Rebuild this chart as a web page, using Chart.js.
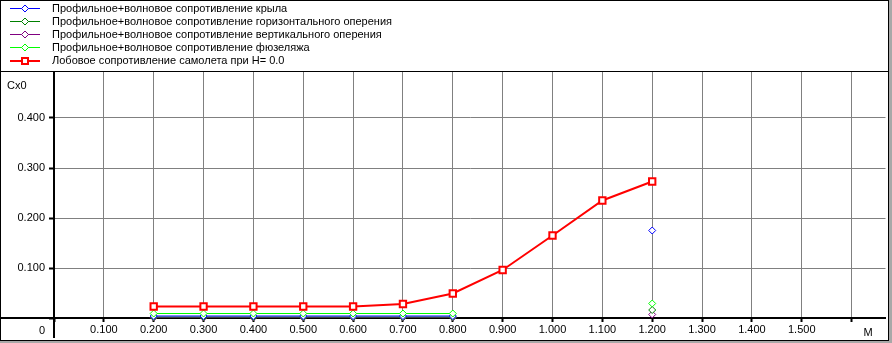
<!DOCTYPE html>
<html>
<head>
<meta charset="utf-8">
<script src="https://cdn.jsdelivr.net/npm/chart.js@4.4.1/dist/chart.umd.min.js"></script>
<style>
  html, body { margin: 0; padding: 0; background: #fff; }
  #wrap { position: relative; width: 892px; height: 343px; overflow: hidden;
          font-family: "Liberation Sans", Arial, sans-serif; font-size: 11px; color: #000; }
  #chart { position: absolute; left: 0; top: 0; }
  #legendBox { position: absolute; left: 0; top: 0; width: 887px; height: 70px; border: 1px solid #000; }
  #plotBox { position: absolute; left: 0; top: 71px; width: 887px; height: 268px; border: 1px solid #000; }
  #shadeR { position: absolute; left: 889px; top: 0; width: 3px; height: 343px; background: #a8a8a8; }
  #shadeB { position: absolute; left: 0; top: 341px; width: 892px; height: 2px; background: #a8a8a8; }
  .row { position: absolute; left: 0; height: 13px; line-height: 13px; white-space: nowrap; }
  .row canvas { position: absolute; left: 8px; top: 0; }
  .row span { position: absolute; left: 52px; top: 0; }
</style>
</head>
<body>
<div id="wrap">
  <canvas id="chart" width="892" height="343"></canvas>
  <div id="legendBox"></div>
  <div id="plotBox"></div>
  <div id="shadeR"></div>
  <div id="shadeB"></div>
</div>
<script>
// Mach numbers
const machValues = [0.2, 0.3, 0.4, 0.5, 0.6, 0.7, 0.8, 0.9, 1.0, 1.1, 1.2];

// Cx0 components (null = not computed)
const wingCx     = [0.004, 0.004, 0.004, 0.004, 0.004, 0.004, 0.004, null, null, null, 0.175];
const hTailCx    = [0.002, 0.002, 0.002, 0.002, 0.002, 0.002, 0.002, null, null, null, 0.016];
const vTailCx    = [0.001, 0.001, 0.001, 0.001, 0.001, 0.001, 0.001, null, null, null, 0.007];
const fuselageCx = [0.009, 0.009, 0.009, 0.009, 0.009, 0.009, 0.009, null, null, null, 0.029];
const totalCx    = [0.023, 0.023, 0.023, 0.023, 0.023, 0.028, 0.049, 0.096, 0.165, 0.235, 0.273];

const seriesNames = [
    'Профильное+волновое сопротивление крыла',
    'Профильное+волновое сопротивление горизонтального оперения',
    'Профильное+волновое сопротивление вертикального оперения',
    'Профильное+волновое сопротивление фюзеляжа',
    'Лобовое сопротивление самолета при H= 0.0'
];
const seriesColors = ['#0000ff', '#008000', '#800080', '#00ff00', '#ff0000'];

const FONT = '"Liberation Sans", Arial, sans-serif';
Chart.defaults.font.family = FONT;
Chart.defaults.font.size = 11;
Chart.defaults.color = '#000';

function toPoints(arr) {
    return machValues.map((m, i) => ({ x: m, y: arr[i] }));
}

function thinSeries(idx, arr, order) {
    return {
        label: seriesNames[idx],
        data: toPoints(arr),
        borderColor: seriesColors[idx],
        backgroundColor: '#fff',
        borderWidth: 1,
        pointStyle: 'rectRot',
        pointRadius: 3.5,
        pointBorderWidth: 1,
        pointBorderColor: seriesColors[idx],
        pointBackgroundColor: '#fff',
        order: order,
        clip: false
    };
}

const datasets = [
    thinSeries(0, wingCx, 2),
    thinSeries(1, hTailCx, 3),
    thinSeries(2, vTailCx, 4),
    thinSeries(3, fuselageCx, 1),
    {
        label: seriesNames[4],
        data: toPoints(totalCx),
        borderColor: seriesColors[4],
        backgroundColor: '#fff',
        borderWidth: 2,
        pointStyle: 'rect',
        pointRadius: 4.5,
        pointBorderWidth: 2,
        pointBorderColor: seriesColors[4],
        pointBackgroundColor: '#fff',
        order: 0,
        clip: false
    }
];

// extra axis bits: axis lines running past the origin, axis names, origin "0"
const axisExtras = {
    id: 'axisExtras',
    afterDraw(chart) {
        const ctx = chart.ctx;
        const area = chart.chartArea;
        const x0 = chart.scales.x.getPixelForValue(0);
        const y0 = chart.scales.y.getPixelForValue(0);
        ctx.save();
        ctx.fillStyle = '#000';
        ctx.fillRect(x0 - 1, area.bottom, 2, 338 - area.bottom);
        ctx.fillRect(1, y0 - 1, area.left - 1, 2);
        ctx.font = '11px ' + FONT;
        ctx.textBaseline = 'middle';
        ctx.textAlign = 'left';
        ctx.fillText('Cx0', 7, 86);
        ctx.fillText('M', chart.scales.x.getPixelForValue(1.6) + 12, 333);
        ctx.textAlign = 'right';
        ctx.fillText('0', x0 - 9, 331);
        ctx.restore();
    }
};

new Chart(document.getElementById('chart'), {
    type: 'line',
    data: { datasets: datasets },
    options: {
        responsive: false,
        animation: false,
        layout: { padding: { left: 2, right: 0, top: 72, bottom: 3 } },
        plugins: { legend: { display: false }, tooltip: { enabled: false } },
        scales: {
            x: {
                type: 'linear',
                min: 0,
                max: 1.668,
                afterFit(scale) { scale.height = 22; },
                border: { color: '#000', width: 2 },
                grid: { color: '#808080', lineWidth: 1, tickLength: 4, tickColor: '#000', tickWidth: 2 },
                ticks: {
                    stepSize: 0.1,
                    includeBounds: false,
                    autoSkip: false,
                    maxRotation: 0,
                    padding: 1,
                    callback(v) { return (v < 0.05 || v > 1.55) ? '' : v.toFixed(3); }
                }
            },
            y: {
                min: 0,
                max: 0.492,
                afterFit(scale) { scale.width = 52; },
                border: { color: '#000', width: 2 },
                grid: { color: '#808080', lineWidth: 1, tickLength: 5, tickColor: '#000', tickWidth: 2 },
                ticks: {
                    stepSize: 0.1,
                    includeBounds: false,
                    padding: 4,
                    callback(v) { return v < 0.05 ? '' : v.toFixed(3); }
                }
            }
        }
    },
    plugins: [axisExtras]
});

// legend rows with line + marker samples
const wrap = document.getElementById('wrap');
datasets.forEach((ds, i) => {
    const row = document.createElement('div');
    row.className = 'row';
    row.style.top = (2 + i * 13) + 'px';
    const c = document.createElement('canvas');
    c.width = 34; c.height = 13;
    const g = c.getContext('2d');
    const cy = 6.5;
    g.strokeStyle = ds.borderColor;
    g.lineWidth = ds.borderWidth;
    g.beginPath();
    g.moveTo(2, ds.borderWidth === 2 ? 7 : cy);
    g.lineTo(32, ds.borderWidth === 2 ? 7 : cy);
    g.stroke();
    g.fillStyle = '#fff';
    g.lineWidth = ds.pointBorderWidth;
    g.beginPath();
    if (ds.pointStyle === 'rect') {
        g.rect(14, 4, 6, 6);
    } else {
        g.moveTo(17, cy - 3.5); g.lineTo(20.5, cy); g.lineTo(17, cy + 3.5); g.lineTo(13.5, cy); g.closePath();
    }
    g.fill();
    g.stroke();
    const s = document.createElement('span');
    s.textContent = ds.label;
    row.appendChild(c);
    row.appendChild(s);
    wrap.appendChild(row);
});
</script>
</body>
</html>
